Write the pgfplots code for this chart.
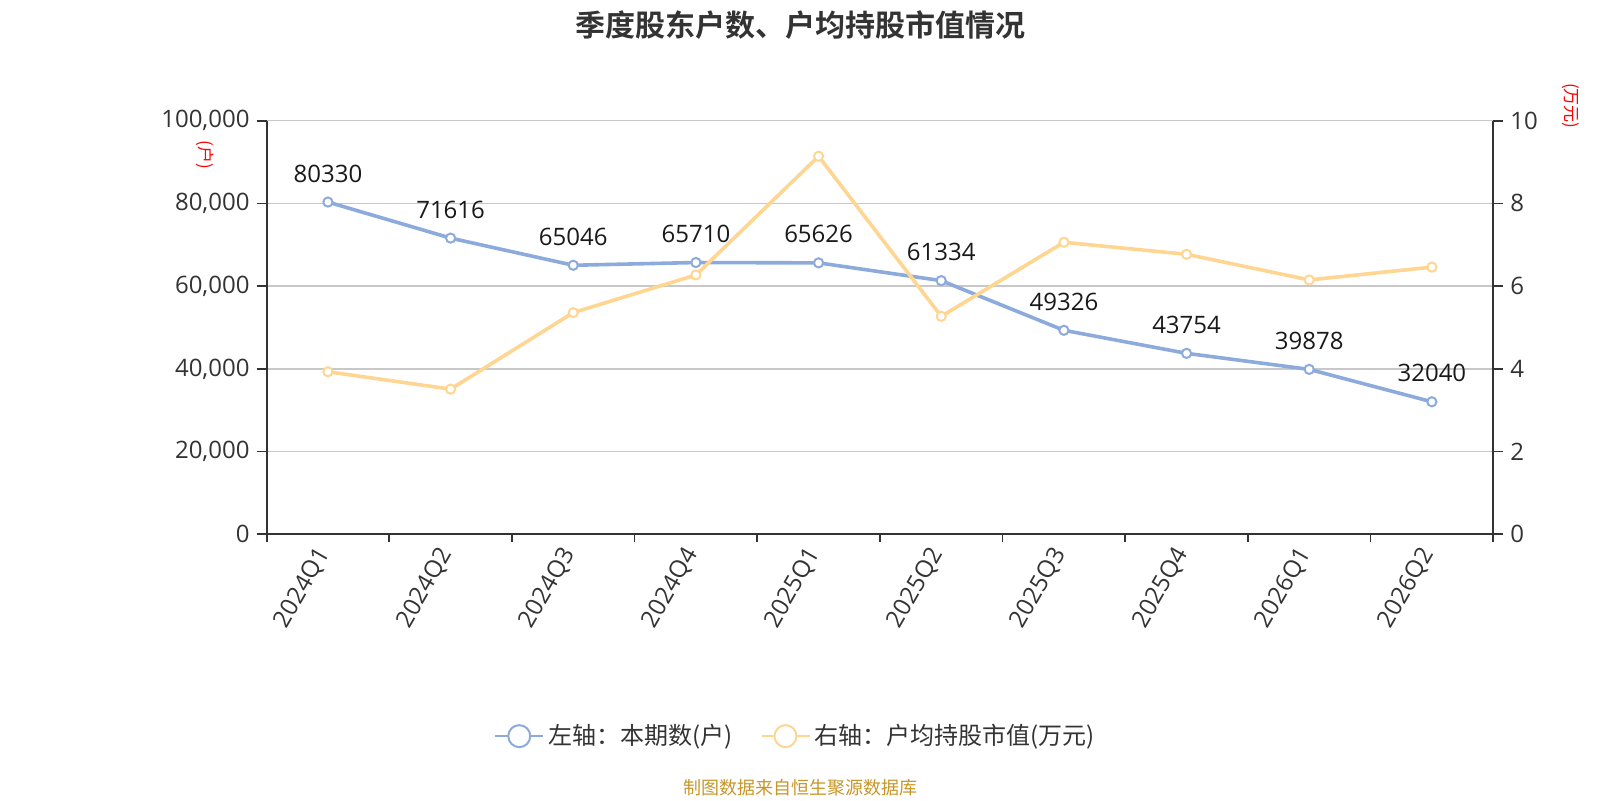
\documentclass[border=0pt]{standalone}
\usepackage{fontspec}
\setmainfont{Open Sans}
\newfontfamily\cjk{Noto Sans CJK SC}
\newfontfamily\cjkb{Noto Sans CJK SC Bold}
\usepackage{pgfplots}
\pgfplotsset{compat=1.18}
\definecolor{cblue}{RGB}{140,170,219}
\definecolor{corange}{RGB}{254,214,146}
\definecolor{cgrid}{RGB}{200,200,200}
\definecolor{caxis}{RGB}{51,51,51}
\definecolor{csrc}{RGB}{200,150,40}
\pgfplotsset{
  base/.style={
    at={(133.3pt,132.85pt)}, anchor=south west,
    scale only axis, width=613.3pt, height=206.8pt,
    xmin=-0.5, xmax=9.5, clip=false,
    /pgf/number format/assume math mode=true,
    axis line style={caxis, line width=0.9pt},
    tick style={caxis, line width=0.9pt},
    tick align=outside,
    major tick length=5pt, minor tick length=4pt,
    tick label style={font=\fontsize{12pt}{14pt}\selectfont, text=caxis},
  }
}
\begin{document}
\begin{tikzpicture}
\useasboundingbox (0,0) rectangle (800pt,400pt);
\node[font=\cjkb\fontsize{15pt}{18pt}\selectfont, text=caxis] at (400pt,387.5pt) {季度股东户数、户均持股市值情况};
\node[font=\cjk\fontsize{9pt}{11pt}\selectfont, text=csrc] at (400pt,6pt) {制图数据来自恒生聚源数据库};

\begin{axis}[base,
  ymin=0, ymax=100000,
  axis y line*=left, axis x line*=bottom,
  xtick={0,...,9},
  xticklabels={2024Q1,2024Q2,2024Q3,2024Q4,2025Q1,2025Q2,2025Q3,2025Q4,2026Q1,2026Q2},
  major x tick style={draw=none},
  minor xtick={-0.5,0.5,...,9.5},
  x tick label style={rotate=60, anchor=east},
  ytick={0,20000,...,100000},
  scaled y ticks=false,
  y tick label style={/pgf/number format/.cd, fixed, 1000 sep={,}},
  ymajorgrids, grid style={cgrid, line width=0.7pt},
  legend style={at={(0.432,-0.488)}, anchor=center, draw=none, fill=none,
    legend columns=2, font=\cjk\fontsize{12pt}{14pt}\selectfont, text=caxis,
    /tikz/every even column/.append style={column sep=12pt}},
  legend image code/.code={
    \draw[#1, line width=1pt] (0pt,0pt) -- (24pt,0pt);
    \draw[#1, line width=1pt, fill=white] (12pt,0pt) circle (5.5pt);},
]
\addplot[cblue, line width=1.8pt, mark=*, mark size=2.3pt,
  mark options={fill=white, line width=1pt},
  nodes near coords, point meta=explicit symbolic,
  every node near coord/.append style={font=\fontsize{12pt}{14pt}\selectfont, text=black!90, anchor=south, yshift=6pt}]
  coordinates {
  (0,80330)[80330] (1,71616)[71616] (2,65046)[65046] (3,65710)[65710] (4,65626)[65626]
  (5,61334)[61334] (6,49326)[49326] (7,43754)[43754] (8,39878)[39878] (9,32040)[32040]
  };
\addlegendentry{左轴：本期数(户)}
\addlegendimage{corange}
\addlegendentry{右轴：户均持股市值(万元)}
\node[red, rotate=-90, font=\cjk\fontsize{8.5pt}{10pt}\selectfont] at (axis description cs:-0.0503,0.917) {(户)};
\end{axis}

\begin{axis}[base,
  ymin=0, ymax=10,
  axis y line*=right, axis x line=none,
  ytick={0,2,...,10},
]
\addplot[corange, line width=1.8pt, mark=*, mark size=2.3pt,
  mark options={fill=white, line width=1pt}]
  coordinates {
  (0,3.93) (1,3.51) (2,5.36) (3,6.27) (4,9.14)
  (5,5.27) (6,7.06) (7,6.77) (8,6.15) (9,6.46)
  };
\node[red, rotate=-90, font=\cjk\fontsize{8.5pt}{10pt}\selectfont] at (axis description cs:1.0634,1.0356) {(万元)};
\end{axis}
\end{tikzpicture}
\end{document}
